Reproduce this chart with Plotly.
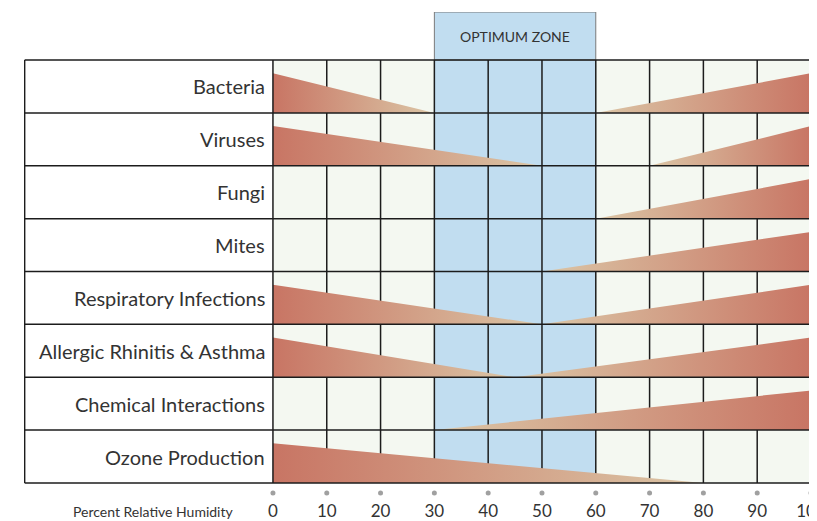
import plotly.graph_objects as go

categories = ["Bacteria", "Viruses", "Fungi", "Mites", "Respiratory Infections",
              "Allergic Rhinitis & Asthma", "Chemical Interactions", "Ozone Production"]
# left wedge: tall at 0 %, tapering to this humidity (None = no left wedge)
left_end = [30, 50, None, None, 50, 45, None, 80]
# right wedge: starts at this humidity, tall at 100 % (None = no right wedge)
right_start = [60, 70, 60, 50, 50, 45, 30, None]
optimum = [30, 60]
tick_vals = [0, 10, 20, 30, 40, 50, 60, 70, 80, 90, 100]
tick_text = [str(v) for v in tick_vals]

RED = "rgb(200,117,100)"
BEIGE = "rgb(219,198,166)"
GRID = "#1c1c1c"
XMIN = -46.27
YTOP = -0.908
YBOT = 8.7
WEDGE_H = 0.75
n = len(categories)

fig = go.Figure()

for i in range(n):
    base = i + 1
    top = base - WEDGE_H
    if left_end[i] is not None:
        fig.add_trace(go.Scatter(
            x=[0, 0, left_end[i], 0], y=[base, top, base, base],
            fill="toself", mode="lines", line=dict(width=0),
            fillgradient=dict(type="horizontal", colorscale=[[0, RED], [1, BEIGE]]),
            hoverinfo="skip", showlegend=False))
    if right_start[i] is not None:
        fig.add_trace(go.Scatter(
            x=[right_start[i], 100, 100, right_start[i]], y=[base, top, base, base],
            fill="toself", mode="lines", line=dict(width=0),
            fillgradient=dict(type="horizontal", colorscale=[[0, BEIGE], [1, RED]]),
            hoverinfo="skip", showlegend=False))

# tick dots
fig.add_trace(go.Scatter(
    x=tick_vals, y=[n + 0.19] * len(tick_vals), mode="markers",
    marker=dict(size=5, color="#a0a0a0"), cliponaxis=False,
    hoverinfo="skip", showlegend=False))
# tick labels
fig.add_trace(go.Scatter(
    x=tick_vals, y=[n + 0.56] * len(tick_vals), mode="text", text=tick_text,
    textposition="middle center", cliponaxis=False,
    textfont=dict(size=17, color="#333333", family="Lato"),
    hoverinfo="skip", showlegend=False))

shapes = []
shapes.append(dict(type="rect", x0=0, x1=100, y0=0, y1=n, fillcolor="#f4f8f1",
                   line=dict(width=0), layer="below"))
shapes.append(dict(type="rect", x0=optimum[0], x1=optimum[1], y0=YTOP, y1=n,
                   fillcolor="#c1ddf0", line=dict(width=0), layer="below"))
shapes.append(dict(type="rect", x0=optimum[0], x1=optimum[1], y0=YTOP, y1=0,
                   fillcolor="rgba(0,0,0,0)", line=dict(color="#7a7a7a", width=1),
                   layer="below"))
for v in tick_vals[1:-1]:
    shapes.append(dict(type="line", x0=v, x1=v, y0=0, y1=n,
                       line=dict(color=GRID, width=1.5), layer="below"))
for r in range(n + 1):
    shapes.append(dict(type="line", x0=XMIN + 0.12, x1=100, y0=r, y1=r,
                       line=dict(color=GRID, width=1.5), layer="above"))
for v in [XMIN + 0.12, 0, 100]:
    shapes.append(dict(type="line", x0=v, x1=v, y0=0, y1=n,
                       line=dict(color=GRID, width=1.5), layer="above"))

annotations = []
for i, c in enumerate(categories):
    annotations.append(dict(x=-1.1, y=i + 0.5, text=c, showarrow=False,
                            xanchor="right", yanchor="middle",
                            font=dict(size=20, color="#333333", family="Lato")))
annotations.append(dict(x=sum(optimum) / 2, y=YTOP / 2, text="OPTIMUM ZONE",
                        showarrow=False, xanchor="center", yanchor="middle",
                        font=dict(size=14, color="#333333", family="Lato")))
annotations.append(dict(x=-22.3, y=n + 0.53, text="Percent Relative Humidity",
                        showarrow=False, xanchor="center", yanchor="middle",
                        font=dict(size=14, color="#333333", family="Lato")))

fig.update_layout(
    width=817, height=521,
    margin=dict(l=16, r=14, t=4, b=9),
    paper_bgcolor="white", plot_bgcolor="white",
    shapes=shapes, annotations=annotations,
    xaxis=dict(range=[XMIN, 100], showgrid=False, zeroline=False, showline=False,
               ticks="", showticklabels=False),
    yaxis=dict(range=[YBOT, YTOP], showgrid=False, zeroline=False,
               showticklabels=False, ticks=""),
    showlegend=False,
)

fig.write_html("out.html")
